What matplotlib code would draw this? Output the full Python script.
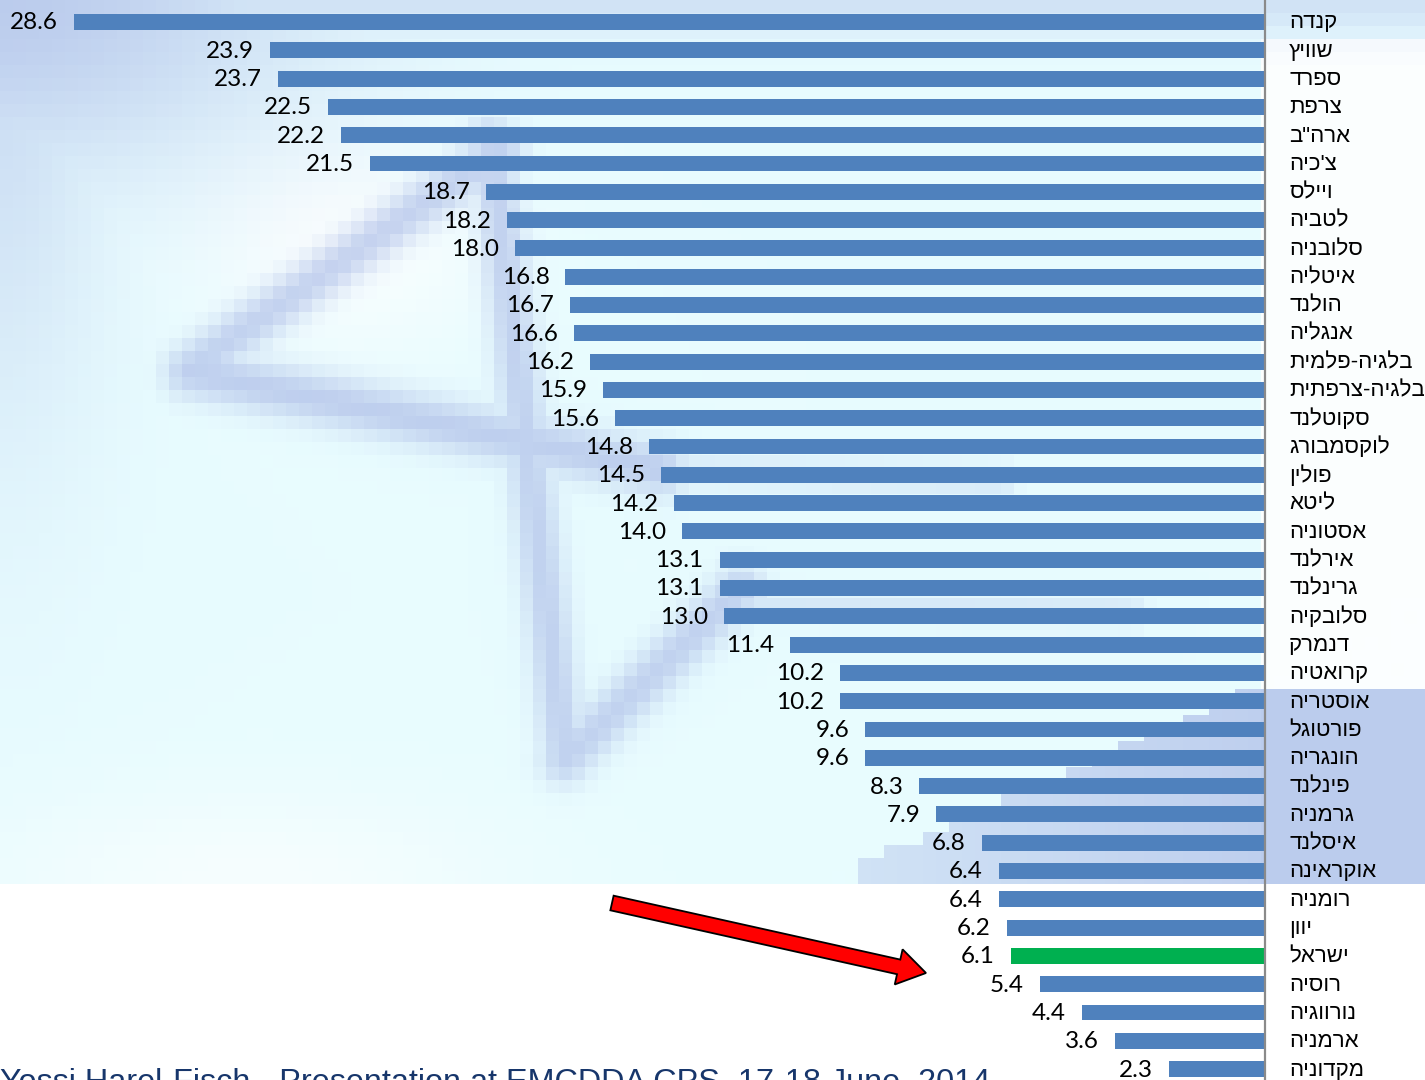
import numpy as np
import matplotlib
matplotlib.use("Agg")
import matplotlib.pyplot as plt
import matplotlib.patches as mpatches

countries = ["קנדה", "שוויץ", "ספרד", "צרפת", "ארה\"ב", "צ'כיה", "ויילס", "לטביה",
             "סלובניה", "איטליה", "הולנד", "אנגליה", "בלגיה-פלמית", "בלגיה-צרפתית",
             "סקוטלנד", "לוקסמבורג", "פולין", "ליטא", "אסטוניה", "אירלנד", "גרינלנד",
             "סלובקיה", "דנמרק", "קרואטיה", "אוסטריה", "פורטוגל", "הונגריה", "פינלנד",
             "גרמניה", "איסלנד", "אוקראינה", "רומניה", "יוון", "ישראל", "רוסיה",
             "נורווגיה", "ארמניה", "מקדוניה"]
values = [28.6, 23.9, 23.7, 22.5, 22.2, 21.5, 18.7, 18.2, 18.0, 16.8, 16.7, 16.6, 16.2,
          15.9, 15.6, 14.8, 14.5, 14.2, 14.0, 13.1, 13.1, 13.0, 11.4, 10.2, 10.2, 9.6,
          9.6, 8.3, 7.9, 6.8, 6.4, 6.4, 6.2, 6.1, 5.4, 4.4, 3.6, 2.3]
highlight = "ישראל"
footer = "Yossi Harel-Fisch - Presentation at EMCDDA CPS, 17-18 June, 2014"

W, H = 1425, 1080
BLUE = "#4f81bd"
GREEN = "#00b050"

# ---- blocky faded backdrop (computed on a coarse grid) ----
cell = 13
nx, ny = W // cell + 1, H // cell + 1
cx = (np.arange(nx) + 0.5) * cell
cy = (np.arange(ny) + 0.5) * cell
X, Y = np.meshgrid(cx, cy)

def seg_dist(x0, y0, x1, y1):
    dx, dy = x1 - x0, y1 - y0
    t = np.clip(((X - x0) * dx + (Y - y0) * dy) / (dx * dx + dy * dy), 0, 1)
    return np.hypot(X - (x0 + t * dx), Y - (y0 + t * dy))

inten = np.zeros_like(X)
inten = np.maximum(inten, 0.85 * np.exp(-((X / 300) ** 2 + (Y / 170) ** 2)))
inten = np.maximum(inten, 0.55 * np.exp(-(X / 110) ** 2) * np.exp(-(Y / 420) ** 2))
inten = np.maximum(inten, 0.45 * np.exp(-(Y / 35) ** 2))
strokes = [((190, 368), (500, 150), 24, 0.75),
           ((190, 372), (660, 470), 26, 0.8),
           ((490, 140), (565, 760), 22, 0.75),
           ((565, 760), (740, 590), 24, 0.75),
           ((650, 470), (1000, 480), 16, 0.35),
           ((740, 605), (1130, 612), 16, 0.35)]
for (x0, y0), (x1, y1), w, a in strokes:
    inten = np.maximum(inten, a * np.exp(-(seg_dist(x0, y0, x1, y1) / w) ** 2))

# lower right wedge, and the strip past the axis
edge = 683 + (1265 - X) * (177 / 395)
wedge = (Y > edge) & (Y < 888) & (X > 860) & (X < 1265)
inten = np.where(wedge, np.maximum(inten, 0.45 + 0.35 * (X - 860) / 405), inten)
right = (X > 1265) & (Y > 683) & (Y < 888)
inten = np.where(right, np.maximum(inten, 0.85), inten)
inten = np.where(Y < 888, inten, 0.0)

cyan = np.array([232, 252, 255]) / 255
white = np.ones(3)
stroke_col = np.array([180, 196, 234]) / 255
tint = np.where(Y < 888, 1.0, 0.0)
tint = np.where((X > 1265) & (Y > 40) & (Y < 683), 0.15, tint)
tint = tint * (1 - 0.8 * np.exp(-(((X - 340) / 150) ** 2 + ((Y - 240) / 110) ** 2)))
tint = tint * (1 - 0.6 * np.exp(-(((X - 250) / 260) ** 2 + ((Y - 880) / 90) ** 2)))
tint = tint[..., None]
base = white * (1 - tint) + cyan * tint
img = base * (1 - inten[..., None]) + stroke_col * inten[..., None]

fig = plt.figure(figsize=(W / 100, H / 100), dpi=100)
bg = fig.add_axes([0, 0, 1, 1])
bg.imshow(img, extent=(0, nx * cell, ny * cell, 0), interpolation="nearest", aspect="auto")
bg.set_xlim(0, W)
bg.set_ylim(H, 0)
bg.axis("off")

# ---- bars ----
px_per_unit = 41.64
row_step = 28.3
zero_px = 1265
first_row_px = 22

ax = fig.add_axes([0, 0, 1, 1])
ax.patch.set_alpha(0)
rows = np.arange(len(values))
colors = [GREEN if c == highlight else BLUE for c in countries]
ax.barh(rows, values, height=0.565, color=colors, zorder=2)
ax.set_xlim(zero_px / px_per_unit, -(W - zero_px) / px_per_unit)
ax.set_ylim((H - first_row_px) / row_step, -first_row_px / row_step)
ax.axis("off")
ax.axvline(0, color="#8a8a8a", lw=1.6, zorder=3)

for i, (c, v) in enumerate(zip(countries, values)):
    ax.annotate(f"{v:.1f}", xy=(v, i), xytext=(-16, -1), textcoords="offset pixels",
                ha="right", va="center", fontsize=17.5, family=["Lato", "DejaVu Sans"],
                color="black")
    # matplotlib draws left to right, so the Hebrew name is reversed
    ax.annotate(c[::-1], xy=(0, i), xytext=(24, -1), textcoords="offset pixels",
                ha="left", va="center", fontsize=16,
                family=["Liberation Sans", "DejaVu Sans"], color="black")

# ---- arrow and footer ----
ov = fig.add_axes([0, 0, 1, 1])
ov.patch.set_alpha(0)
ov.set_xlim(0, W)
ov.set_ylim(H, 0)
ov.axis("off")
ov.add_patch(mpatches.FancyArrow(612, 903, 314, 70, width=15, head_width=36,
                                 head_length=28, length_includes_head=True,
                                 facecolor="#ff0000", edgecolor="black", lw=1.3))
ov.text(0, 1091, footer, ha="left", va="baseline", fontsize=23.3,
        family="Liberation Sans", color="#17366b", clip_on=False)

fig.savefig("out.png", dpi=100)
